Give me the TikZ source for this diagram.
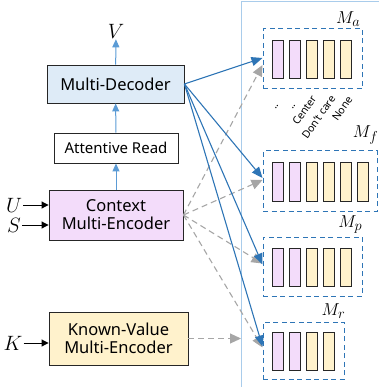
\documentclass[tikz,border=0pt]{standalone}
\usepackage{fontspec}
\setmainfont{Noto Sans}
\usetikzlibrary{arrows.meta,calc}

\definecolor{decblue}{HTML}{DEEBF7}
\definecolor{ctxpink}{HTML}{F3DCFA}
\definecolor{kvyellow}{HTML}{FFF2CC}
\definecolor{linkblue}{HTML}{2E75B6}
\definecolor{flowblue}{HTML}{5B9BD5}
\definecolor{framec}{HTML}{A9CCEB}
\definecolor{dashgray}{HTML}{A6A6A6}

\tikzstyle{blk} = [draw=black!85, line width=0.9pt, align=center, inner sep=0pt, font=\fontsize{16.5}{20}\selectfont]
\tikzstyle{mem} = [draw=linkblue, line width=1pt, dash pattern=on 5pt off 3.5pt, inner sep=0pt]
\tikzstyle{cell} = [draw=black!85, line width=1pt, minimum width=11pt, minimum height=38pt, inner sep=0pt]

\begin{document}
\begin{tikzpicture}[x=1pt,y=-1pt,
			up/.style = {flowblue, line width=1pt, -{Triangle[length=8pt,width=7pt]}},
			link/.style = {linkblue, line width=1.1pt, -{Triangle[length=11pt,width=9pt]}},
			soft/.style = {dashgray, line width=1.1pt, dash pattern=on 6pt off 4pt, -{Triangle[length=11pt,width=10pt]}},
			inp/.style = {black, line width=1pt, -{Triangle[length=7pt,width=7pt]}},
			var/.style = {inner sep=1pt, font=\fontsize{20}{24}\selectfont},
			mlab/.style = {anchor=south east, inner sep=1pt, font=\fontsize{19}{22}\selectfont},
			slot/.style = {anchor=east, rotate=55, inner sep=0pt, font=\fontsize{10.5}{12}\selectfont}]
	\useasboundingbox (0,0) rectangle (379,387);

	% left column
	\node (dec)[blk, fill=decblue, minimum width=137pt, minimum height=38pt] at (115.5,84) {Multi-Decoder};
	\node (att)[blk, fill=white, minimum width=124pt, minimum height=30pt, font=\fontsize{15}{18}\selectfont] at (116,148) {Attentive Read};
	\node (ctx)[blk, fill=ctxpink, minimum width=134pt, minimum height=50pt] at (116,215) {Context\\[-2pt]Multi-Encoder};
	\node (kv)[blk, fill=kvyellow, minimum width=139pt, minimum height=53pt] at (118.5,338.5) {Known-Value\\[-2pt]Multi-Encoder};

	\node (V)[var] at (116,31) {$V$};
	\node (U)[var] at (14,205) {$U$};
	\node (S)[var] at (14,225) {$S$};
	\node (K)[var] at (13,343) {$K$};

	\draw[up] (dec) -- (V);
	\draw[up] (att) -- (dec);
	\draw[up] (ctx) -- (att);
	\draw[inp] (U) -- (U -| ctx.west);
	\draw[inp] (S) -- (S -| ctx.west);
	\draw[inp] (K) -- (K -| kv.west);

	% memory panel
	\coordinate (ftop) at (379,2);
	\coordinate (fcorner) at (241,2);
	\coordinate (fbot) at (241,387);
	\draw[framec, line width=1pt] (fbot) -- (fcorner) -- (ftop);

	\node (Ma)[mem, minimum width=99pt, minimum height=60pt] at (312.5,59) {};
	\node (Mf)[mem, minimum width=114pt, minimum height=60pt] at (320,181) {};
	\node (Mp)[mem, minimum width=99pt, minimum height=59pt] at (312.5,266.5) {};
	\node (Mr)[mem, minimum width=81pt, minimum height=57pt] at (303.5,350.5) {};

	\node (Malab)[mlab] at ($(Ma.north east)+(-1,-1)$) {$M_a$};
	\node (Mflab)[mlab] at ($(Mf.north east)+(2,-5)$) {$M_f$};
	\node (Mplab)[mlab] at ($(Mp.north east)+(1,-2)$) {$M_p$};
	\node (Mrlab)[mlab] at ($(Mr.north east)+(2,-2)$) {$M_r$};

	\foreach \m/\n in {Ma/5,Mf/6,Mp/5,Mr/4} {
		\foreach \i in {1,...,\n} {
			\ifnum\i<3
				\node (\m-\i)[cell, fill=ctxpink, anchor=west] at ($(\m.west)+({9+17*(\i-1)},1)$) {};
			\else
				\node (\m-\i)[cell, fill=kvyellow, anchor=west] at ($(\m.west)+({9+17*(\i-1)},1)$) {};
			\fi
		}
	}

	\node (s1)[slot] at ($(Ma-1.south)+(1,25)$) {..};
	\node (s2)[slot] at ($(Ma-2.south)+(1,25)$) {..};
	\node (s3)[slot] at ($(Ma-3.south)+(2.5,17)$) {Center};
	\node (s4)[slot] at ($(Ma-4.south)+(4.5,17)$) {Don't care};
	\node (s5)[slot] at ($(Ma-5.south)+(4.5,18)$) {None};

	% attention links
	\draw[soft] (ctx.east) -- ($(Ma.west)+(0,6)$);
	\draw[soft] (ctx.east) -- ($(Mf.west)+(0,-1)$);
	\draw[soft] (ctx.east) -- ($(Mp.west)+(0,-3)$);
	\draw[soft] (ctx.east) -- ($(Mr.west)+(0,-3)$);
	\draw[soft] (kv.east) -- (kv.east -| fbot);

	\draw[link] (dec.east) -- ($(Ma.west)+(0,-1)$);
	\draw[link] (dec.east) -- ($(Mf.west)+(0,-3)$);
	\draw[link] (dec.east) -- ($(Mp.west)+(0,-2)$);
	\draw[link] (dec.east) -- ($(Mr.west)+(0,-4)$);
\end{tikzpicture}
\end{document}
